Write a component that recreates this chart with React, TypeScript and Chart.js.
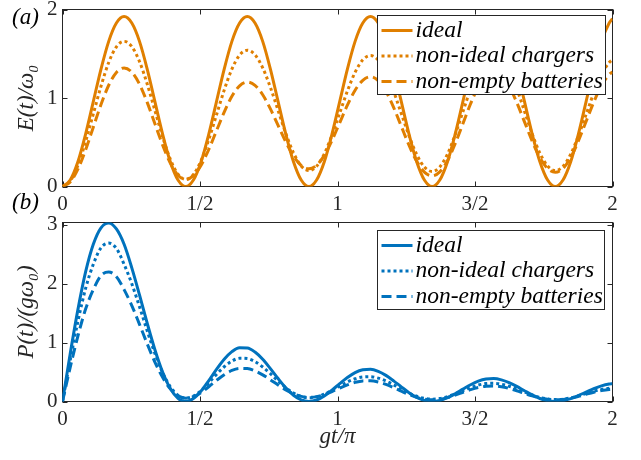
import React, { useEffect, useRef } from 'react';
import { Chart, registerables } from 'chart.js';

Chart.register(...registerables);

// ---------- data ----------
const gtOverPi = [
  0, 0.028, 0.056, 0.084, 0.112, 0.14, 0.168, 0.196, 0.224, 0.252, 0.28, 0.308, 0.336, 0.364, 0.392, 0.42,
  0.448, 0.476, 0.504, 0.532, 0.56, 0.588, 0.616, 0.644, 0.672, 0.7, 0.728, 0.756, 0.784, 0.812, 0.84, 0.868,
  0.896, 0.924, 0.952, 0.98, 1.008, 1.036, 1.064, 1.092, 1.12, 1.148, 1.176, 1.204, 1.232, 1.26, 1.288, 1.316,
  1.344, 1.372, 1.4, 1.428, 1.456, 1.484, 1.512, 1.54, 1.568, 1.596, 1.624, 1.652, 1.68, 1.708, 1.736, 1.764,
  1.792, 1.82, 1.848, 1.876, 1.904, 1.932, 1.96, 1.988, 2,
];

const energyIdeal = [
  0, 0.073, 0.28, 0.593, 0.96, 1.327, 1.64, 1.847, 1.92, 1.847, 1.64, 1.327, 0.96, 0.593, 0.28, 0.073,
  0, 0.073, 0.28, 0.593, 0.96, 1.327, 1.64, 1.847, 1.92, 1.847, 1.64, 1.327, 0.96, 0.593, 0.28, 0.073,
  0, 0.073, 0.28, 0.593, 0.96, 1.327, 1.64, 1.847, 1.92, 1.847, 1.64, 1.327, 0.96, 0.593, 0.28, 0.073,
  0, 0.073, 0.28, 0.593, 0.96, 1.327, 1.64, 1.847, 1.92, 1.847, 1.64, 1.327, 0.96, 0.593, 0.28, 0.073,
  0, 0.073, 0.28, 0.593, 0.96, 1.327, 1.64, 1.847, 1.895,
];

const energyNonIdealChargers = [
  0, 0.062, 0.239, 0.507, 0.82, 1.133, 1.401, 1.578, 1.64, 1.581, 1.412, 1.158, 0.86, 0.562, 0.308, 0.139,
  0.08, 0.135, 0.293, 0.531, 0.81, 1.089, 1.327, 1.485, 1.54, 1.488, 1.341, 1.12, 0.86, 0.6, 0.379, 0.232,
  0.18, 0.229, 0.37, 0.582, 0.83, 1.078, 1.29, 1.431, 1.48, 1.43, 1.289, 1.075, 0.825, 0.575, 0.361, 0.22,
  0.17, 0.221, 0.367, 0.587, 0.845, 1.103, 1.323, 1.469, 1.52, 1.469, 1.324, 1.106, 0.85, 0.594, 0.376, 0.231,
  0.18, 0.228, 0.365, 0.572, 0.815, 1.058, 1.265, 1.402, 1.433,
];

const energyNonEmptyBatteries = [
  0, 0.051, 0.196, 0.414, 0.67, 0.926, 1.144, 1.289, 1.34, 1.292, 1.156, 0.951, 0.71, 0.469, 0.264, 0.128,
  0.08, 0.122, 0.241, 0.42, 0.63, 0.84, 1.019, 1.138, 1.18, 1.143, 1.037, 0.877, 0.69, 0.503, 0.343, 0.237,
  0.2, 0.24, 0.352, 0.521, 0.72, 0.919, 1.088, 1.2, 1.24, 1.197, 1.076, 0.894, 0.68, 0.466, 0.284, 0.163,
  0.12, 0.165, 0.292, 0.485, 0.71, 0.935, 1.128, 1.255, 1.3, 1.257, 1.134, 0.948, 0.73, 0.512, 0.326, 0.203,
  0.16, 0.204, 0.328, 0.515, 0.735, 0.955, 1.142, 1.266, 1.295,
];

const powerIdeal = [
  0, 0.81, 1.56, 2.2, 2.67, 2.95, 3.03, 2.93, 2.67, 2.27, 1.81, 1.33, 0.88, 0.5, 0.22, 0.053,
  0, 0.049, 0.177, 0.355, 0.546, 0.718, 0.847, 0.913, 0.909, 0.84, 0.717, 0.559, 0.39, 0.232, 0.106, 0.027,
  0, 0.025, 0.094, 0.193, 0.303, 0.408, 0.491, 0.538, 0.546, 0.512, 0.444, 0.351, 0.248, 0.15, 0.069, 0.018,
  0, 0.017, 0.064, 0.132, 0.21, 0.285, 0.345, 0.382, 0.39, 0.368, 0.321, 0.256, 0.182, 0.111, 0.051, 0.013,
  0, 0.013, 0.048, 0.101, 0.16, 0.219, 0.266, 0.296, 0.302,
];

const powerNonIdealChargers = [
  0, 0.7, 1.36, 1.92, 2.33, 2.61, 2.69, 2.6, 2.33, 2.0, 1.61, 1.2, 0.815, 0.49, 0.25, 0.105,
  0.057, 0.09, 0.185, 0.318, 0.46, 0.59, 0.686, 0.734, 0.729, 0.677, 0.586, 0.472, 0.349, 0.235, 0.144, 0.085,
  0.064, 0.079, 0.124, 0.189, 0.262, 0.331, 0.386, 0.417, 0.421, 0.397, 0.349, 0.284, 0.213, 0.145, 0.089, 0.053,
  0.04, 0.051, 0.083, 0.131, 0.185, 0.237, 0.279, 0.304, 0.309, 0.293, 0.26, 0.213, 0.161, 0.111, 0.069, 0.042,
  0.032, 0.04, 0.063, 0.097, 0.136, 0.174, 0.205, 0.224, 0.228,
];

const powerNonEmptyBatteries = [
  0, 0.58, 1.11, 1.57, 1.9, 2.14, 2.2, 2.12, 1.9, 1.63, 1.31, 0.98, 0.67, 0.41, 0.214, 0.097,
  0.057, 0.082, 0.152, 0.251, 0.358, 0.455, 0.527, 0.562, 0.559, 0.52, 0.453, 0.369, 0.28, 0.197, 0.13, 0.087,
  0.071, 0.083, 0.118, 0.169, 0.227, 0.282, 0.325, 0.35, 0.352, 0.332, 0.291, 0.236, 0.176, 0.118, 0.07, 0.039,
  0.028, 0.038, 0.066, 0.108, 0.155, 0.201, 0.237, 0.259, 0.264, 0.251, 0.222, 0.183, 0.138, 0.095, 0.06, 0.037,
  0.028, 0.036, 0.056, 0.087, 0.123, 0.157, 0.185, 0.203, 0.206,
];

const xTickValues = [0, 0.5, 1, 1.5, 2];
const xTickLabels = ['0', '1/2', '1', '3/2', '2'];
const energyTickValues = [0, 1, 2];
const powerTickValues = [0, 1, 2, 3];
const seriesLabels = ['ideal', 'non-ideal chargers', 'non-empty batteries'];

// ---------- styles ----------
const ORANGE = '#E07F00';
const BLUE = '#0072BD';
const AXIS = '#262626';
const SERIF = "'Liberation Serif', 'Times New Roman', serif";
const PAGE_W = 641;
const PLOT_LEFT = 62.5;
const PLOT_RIGHT = 612.5;

type PanelSpec = {
  height: number;
  plotTop: number;
  plotBottom: number;
  yMax: number;
  yTicks: number[];
  yTitle: string;
  xTitle: string | null;
  color: string;
  series: number[][];
  legend: { left: number; top: number; right: number; bottom: number };
  panelLabel: string;
  panelLabelY: number;
};

const dashes = [[], [3, 3], [10, 5]];

function toPoints(ys: number[]) {
  return gtOverPi.map((x, i) => ({ x, y: ys[i] }));
}

const framePlugin = {
  id: 'frame',
  beforeDatasetsDraw(chart: any) {
    const { ctx, chartArea: a, scales } = chart;
    ctx.save();
    ctx.strokeStyle = AXIS;
    ctx.lineWidth = 1;
    ctx.strokeRect(a.left, a.top, a.right - a.left, a.bottom - a.top);
    const tl = 5;
    ctx.beginPath();
    for (const v of xTickValues) {
      const px = Math.round(scales.x.getPixelForValue(v)) + 0.5;
      ctx.moveTo(px, a.bottom); ctx.lineTo(px, a.bottom - tl);
      ctx.moveTo(px, a.top); ctx.lineTo(px, a.top + tl);
    }
    for (const t of scales.y.ticks) {
      const py = Math.round(scales.y.getPixelForValue(t.value)) + 0.5;
      ctx.moveTo(a.left, py); ctx.lineTo(a.left + tl, py);
      ctx.moveTo(a.right, py); ctx.lineTo(a.right - tl, py);
    }
    ctx.stroke();
    ctx.restore();
  },
};

const legendPlugin = {
  id: 'boxLegend',
  afterDatasetsDraw(chart: any, _args: any, opts: any) {
    const { ctx } = chart;
    const b = opts.box;
    if (!b) return;
    ctx.save();
    ctx.fillStyle = '#ffffff';
    ctx.fillRect(b.left, b.top, b.right - b.left, b.bottom - b.top);
    ctx.strokeStyle = AXIS;
    ctx.lineWidth = 1;
    ctx.strokeRect(b.left, b.top, b.right - b.left, b.bottom - b.top);
    const rowH = (b.bottom - b.top) / 3.1;
    chart.data.datasets.forEach((ds: any, i: number) => {
      const y = b.top + rowH * 0.55 + rowH * i + 1;
      ctx.strokeStyle = ds.borderColor;
      ctx.lineWidth = ds.borderWidth;
      ctx.setLineDash(ds.borderDash || []);
      ctx.beginPath();
      ctx.moveTo(b.left + 4, y);
      ctx.lineTo(b.left + 35, y);
      ctx.stroke();
      ctx.setLineDash([]);
      ctx.fillStyle = '#000000';
      ctx.font = `italic 23.5px ${SERIF}`;
      ctx.textBaseline = 'middle';
      ctx.textAlign = 'left';
      ctx.fillText(ds.label, b.left + 38, y);
    });
    ctx.restore();
  },
};

const panelLabelPlugin = {
  id: 'panelLabel',
  afterDraw(chart: any, _args: any, opts: any) {
    const { ctx } = chart;
    ctx.save();
    ctx.fillStyle = '#000000';
    ctx.font = `italic 23px ${SERIF}`;
    ctx.textBaseline = 'middle';
    ctx.textAlign = 'left';
    ctx.fillText(opts.text, 12, opts.y);
    ctx.restore();
  },
};

function Panel({ spec, top }: { spec: PanelSpec; top: number }) {
  const ref = useRef<HTMLCanvasElement | null>(null);
  useEffect(() => {
    const canvas = ref.current;
    if (!canvas) return;
    const xAxisH = spec.height - spec.plotBottom;
    const chart = new Chart(canvas, {
      type: 'line',
      data: {
        datasets: spec.series.map((ys, i) => ({
          label: seriesLabels[i],
          data: toPoints(ys),
          borderColor: spec.color,
          backgroundColor: spec.color,
          borderWidth: 3,
          borderDash: dashes[i],
          borderCapStyle: 'butt',
          pointRadius: 0,
          fill: false,
          cubicInterpolationMode: 'monotone',
          order: 3 - i,
        })),
      },
      options: {
        responsive: false,
        animation: false,
        events: [],
        layout: { padding: { left: 0, top: spec.plotTop, right: PAGE_W - PLOT_RIGHT, bottom: 0 } },
        plugins: {
          legend: { display: false },
          tooltip: { enabled: false },
          boxLegend: { box: spec.legend },
          panelLabel: { text: spec.panelLabel, y: spec.panelLabelY },
        } as any,
        scales: {
          x: {
            type: 'linear',
            min: 0,
            max: 2,
            afterBuildTicks: (s: any) => { s.ticks = xTickValues.map((v) => ({ value: v })); },
            afterFit: (s: any) => { s.height = xAxisH; s.paddingLeft = 0; s.paddingRight = 0; },
            ticks: {
              autoSkip: false,
              maxRotation: 0,
              padding: 5,
              color: AXIS,
              font: { family: SERIF, size: 21 },
              callback: (v: any) => {
                const idx = xTickValues.indexOf(Number(v));
                return idx >= 0 ? xTickLabels[idx] : '';
              },
            },
            grid: { display: false, drawTicks: false },
            border: { display: false },
            title: {
              display: !!spec.xTitle,
              text: spec.xTitle || '',
              color: AXIS,
              font: { family: SERIF, size: 23, style: 'italic' },
              padding: { top: 0, bottom: 9 },
            },
          },
          y: {
            type: 'linear',
            min: 0,
            max: spec.yMax,
            afterBuildTicks: (s: any) => { s.ticks = spec.yTicks.map((v) => ({ value: v })); },
            afterFit: (s: any) => { s.width = PLOT_LEFT; s.paddingTop = 0; s.paddingBottom = 0; },
            ticks: {
              padding: 5,
              color: AXIS,
              font: { family: SERIF, size: 21 },
              callback: (v: any) => String(v),
            },
            grid: { display: false, drawTicks: false },
            border: { display: false },
            title: {
              display: true,
              text: spec.yTitle,
              color: AXIS,
              font: { family: SERIF, size: 23, style: 'italic' },
              padding: { top: 13, bottom: 0 },
            },
          },
        },
      } as any,
      plugins: [framePlugin, legendPlugin, panelLabelPlugin],
    });
    return () => chart.destroy();
  }, [spec]);
  return (
    <canvas
      ref={ref}
      width={PAGE_W}
      height={spec.height}
      style={{ position: 'absolute', left: 0, top, width: PAGE_W, height: spec.height }}
    />
  );
}

const energySpec: PanelSpec = {
  height: 215,
  plotTop: 9.5,
  plotBottom: 186.5,
  yMax: 2,
  yTicks: energyTickValues,
  yTitle: 'E(t)/ω₀',
  xTitle: null,
  color: ORANGE,
  series: [energyIdeal, energyNonIdealChargers, energyNonEmptyBatteries],
  legend: { left: 377.5, top: 15.5, right: 605.5, bottom: 94.5 },
  panelLabel: '(a)',
  panelLabelY: 18,
};

const powerSpec: PanelSpec = {
  height: 270,
  plotTop: 32.5,
  plotBottom: 211.5,
  yMax: 3.04,
  yTicks: powerTickValues,
  yTitle: 'P(t)/(gω₀)',
  xTitle: 'gt/π',
  color: BLUE,
  series: [powerIdeal, powerNonIdealChargers, powerNonEmptyBatteries],
  legend: { left: 377.5, top: 40.5, right: 604.5, bottom: 119.5 },
  panelLabel: '(b)',
  panelLabelY: 13,
};

export default function App() {
  return (
    <div style={{ position: 'fixed', left: 0, top: 0, width: PAGE_W, height: 460, background: '#ffffff' }}>
      <Panel spec={energySpec} top={0} />
      <Panel spec={powerSpec} top={190} />
    </div>
  );
}
